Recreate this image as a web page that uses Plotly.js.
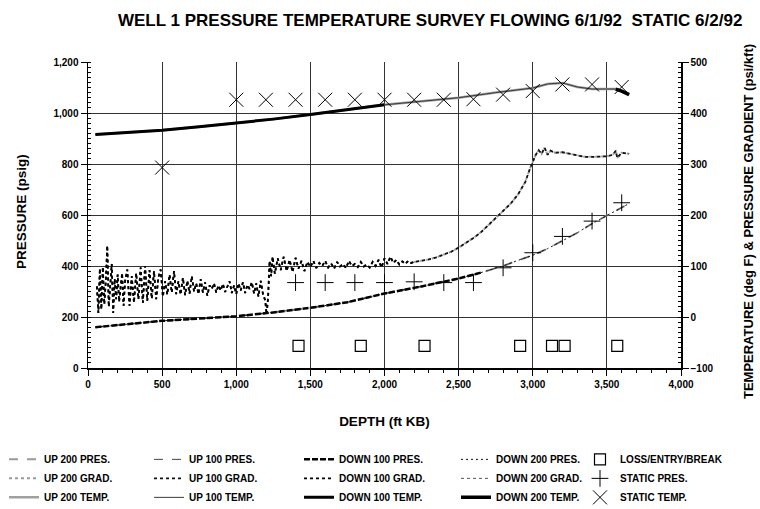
<!DOCTYPE html>
<html>
<head>
<meta charset="utf-8">
<script src="https://cdn.plot.ly/plotly-3.0.1.min.js"></script>
<style>html,body{margin:0;padding:0;background:#fff}#chart{width:760px;height:509px}</style>
</head>
<body>
<div id="chart"></div>
<script>
// ---- Flowing pressure gradient (psi/kft, right axis) ----
var gradDepth = [
  60,70,80,90,100,110,120,130,140,150,
  160,170,180,190,200,210,220,230,240,250,
  265,280,295,310,325,340,355,370,385,400,
  415,430,445,460,475,490,505,520,535,550,
  565,580,595,610,625,640,655,670,685,700,
  715,730,745,760,775,790,805,820,835,850,
  865,880,895,910,925,940,955,970,985,1000,
  1015,1030,1045,1060,1075,1090,1105,1120,1135,1150,
  1165,1180,1195,1205,1215,1225,1235,1245,1260,1280,
  1300,1320,1340,1360,1380,1400,1420,1440,1460,1480,
  1500,1520,1540,1560,1580,1600,1620,1640,1660,1680,
  1700,1720,1740,1760,1780,1800,1820,1840,1860,1880,
  1900,1920,1940,1960,1980,2000,2020,2040,2060,2080,
  2100,2120,2140,2160,2180,2200,2250,2300,2350,2400,
  2450,2500,2550,2600,2650,2700,2750,2800,2850,2900,
  2950,2980,3000,3020,3040,3060,3080,3100,3120,3150,
  3200,3250,3300,3350,3400,3450,3500,3540,3560,3570,
  3600,3650
];
var gradValue = [
  60,8,95,15,98,25,70,140,20,60,
  104,8,75,35,83,30,62,86,22,70,
  93,22,80,28,86,35,97,28,100,32,
  92,36,90,35,78,93,40,70,44,83,
  48,90,45,70,44,77,43,71,46,80,
  50,66,45,74,48,68,42,62,55,66,
  48,62,52,65,49,60,70,47,62,45,
  66,52,68,47,63,55,68,46,66,40,
  71,45,33,5,40,110,80,118,85,115,
  92,118,90,112,88,116,95,110,90,108,
  98,110,96,106,100,110,97,105,95,108,
  99,104,96,110,100,104,98,108,99,103,
  97,108,100,112,97,115,104,118,106,112,
  103,109,104,110,106,108,110,113,117,122,
  128,136,145,155,166,180,193,207,222,240,
  265,290,305,318,327,320,332,318,326,322,
  323,320,316,314,314,315,315,318,326,312,
  322,320
];

// ---- Flowing pressure (psig, left axis) ----
var presDepth = [50,250,500,750,1000,1250,1500,1750,2000,2250,2500,2650,2800,2900,3000,3100,3200,3300,3400,3500,3600,3650];
var presPsig  = [160,172,185,194,203,218,236,258,292,320,351,374,400,422,442,468,498,530,566,598,630,645];

// ---- Flowing temperature (deg F, right axis) ----
var tempDepth = [50,250,500,750,1000,1250,1500,1750,2000,2250,2500,2750,3000,3100,3200,3300,3400,3500,3560,3600,3650];
var tempDegF  = [358,362,366,373,380,388,397,406,416,423,430,440,449,457,459,451,447,447,447,443,436];

// ---- Static survey ----
var staticTempDepth = [500,1000,1200,1400,1600,1800,2000,2200,2400,2600,2800,3000,3200,3400,3600];
var staticTempDegF  = [293,426,426,426,426,426,426,426,426,427,436,443,456,456,451];
var staticPresDepth = [1400,1600,1800,2000,2200,2400,2600,2800,3000,3200,3400,3600];
var staticPresPsig  = [335,335,335,335,338,335,335,393,452,516,576,648];

// ---- Loss / entry / break points ----
var lossDepth = [1420,1840,2270,2915,3130,3215,3570];
var lossPsig  = [87,87,87,87,87,87,87];

// ---- tick labels ----
var depthTicks = [0,500,1000,1500,2000,2500,3000,3500,4000];
var depthTickText = ['0','500','1,000','1,500','2,000','2,500','3,000','3,500','4,000'];
var presTicks = [0,200,400,600,800,1000,1200];
var presTickText = ['0','200','400','600','800','1,000','1,200'];

function pick(xs, ys, test) {
  var ox = [], oy = [];
  for (var i = 0; i < xs.length; i++) { if (test(xs[i])) { ox.push(xs[i]); oy.push(ys[i]); } }
  return {x: ox, y: oy};
}
var gradSmooth = pick(gradDepth, gradValue, function (d) { return d >= 2200; });
var gradNoisy = pick(gradDepth, gradValue, function (d) { return d <= 2200; });
var presDown = pick(presDepth, presPsig, function (d) { return d <= 2650; });
var tempDown = pick(tempDepth, tempDegF, function (d) { return d <= 2000; });
var tempEnd = pick(tempDepth, tempDegF, function (d) { return d >= 3560; });

var FONT = 'Liberation Sans, Arial, sans-serif';

function lineTrace(name, leg, rank, x, y, axis, color, width, dash) {
  return {type: 'scatter', mode: 'lines', name: name, legend: leg, legendrank: rank, x: x, y: y,
          yaxis: axis, line: {color: color, width: width, dash: dash}, hoverinfo: 'skip'};
}

var traces = [
  lineTrace('UP 200 GRAD.', 'legend', 2, gradSmooth.x, gradSmooth.y, 'y2', '#9a9a9a', 2, 'dot'),
  lineTrace('UP 200 PRES.', 'legend', 1, presDepth, presPsig, 'y', '#9a9a9a', 2, 'dash'),
  lineTrace('UP 200 TEMP.', 'legend', 3, tempDepth, tempDegF, 'y2', '#a0a0a0', 2.5, 'solid'),
  lineTrace('DOWN 200 GRAD.', 'legend4', 2, gradDepth, gradValue, 'y2', '#555555', 1, 'dot'),
  lineTrace('UP 100 GRAD.', 'legend2', 2, gradDepth, gradValue, 'y2', '#111111', 1.8, 'dot'),
  lineTrace('DOWN 100 GRAD.', 'legend3', 2, gradNoisy.x, gradNoisy.y, 'y2', '#000000', 1.7, 'dot'),
  lineTrace('UP 100 PRES.', 'legend2', 1, presDepth, presPsig, 'y', '#444444', 1, 'dash'),
  lineTrace('DOWN 200 PRES.', 'legend4', 1, presDepth, presPsig, 'y', '#111111', 1, '2px,3px'),
  lineTrace('DOWN 100 PRES.', 'legend3', 1, presDown.x, presDown.y, 'y', '#000000', 2.5, '6px,2px'),
  lineTrace('UP 100 TEMP.', 'legend2', 3, tempDepth, tempDegF, 'y2', '#3a3a3a', 1, 'solid'),
  lineTrace('DOWN 100 TEMP.', 'legend3', 3, tempDown.x, tempDown.y, 'y2', '#000000', 3, 'solid'),
  lineTrace('DOWN 200 TEMP.', 'legend4', 3, tempEnd.x, tempEnd.y, 'y2', '#000000', 3.5, 'solid'),
  {type: 'scatter', mode: 'markers', name: 'LOSS/ENTRY/BREAK', legend: 'legend5', legendrank: 1, x: lossDepth, y: lossPsig,
   yaxis: 'y', marker: {symbol: 'square-open', size: 11, color: '#000', line: {width: 1.2, color: '#000'}}, hoverinfo: 'skip'},
  {type: 'scatter', mode: 'markers', name: 'STATIC PRES.', legend: 'legend5', legendrank: 2, x: staticPresDepth, y: staticPresPsig,
   yaxis: 'y', marker: {symbol: 'cross-thin-open', size: 12, color: '#000', line: {width: 1, color: '#000'}}, hoverinfo: 'skip'},
  {type: 'scatter', mode: 'markers', name: 'STATIC TEMP.', legend: 'legend5', legendrank: 3, x: staticTempDepth, y: staticTempDegF,
   yaxis: 'y2', marker: {symbol: 'x-thin-open', size: 14, color: '#000', line: {width: 1, color: '#000'}}, hoverinfo: 'skip'}
];

var tickFont = {family: FONT, size: 10, color: '#000', weight: 'bold'};
var titleFont = {family: FONT, size: 13.5, color: '#000', weight: 'bold'};
var legendFont = {family: FONT, size: 10, weight: 'bold', color: '#000'};
function legendAt(px) {
  return {orientation: 'v', xref: 'container', yref: 'container', x: px / 760, xanchor: 'left',
          y: 0.126, yanchor: 'top', font: legendFont, traceorder: 'normal', bgcolor: 'rgba(0,0,0,0)'};
}
var layout = {
  width: 760, height: 509,
  margin: {l: 88, r: 79, t: 62, b: 141, autoexpand: false},
  paper_bgcolor: '#fff', plot_bgcolor: '#fff',
  font: {family: FONT, color: '#000'},
  title: {text: 'WELL 1 PRESSURE TEMPERATURE SURVEY FLOWING 6/1/92&nbsp;&nbsp;STATIC 6/2/92',
          font: {family: FONT, size: 17, weight: 'bold', color: '#000'},
          xref: 'container', yref: 'container', x: 0.566, xanchor: 'center', y: 0.961, yanchor: 'middle'},
  showlegend: true,
  legend: legendAt(4),
  legend2: legendAt(149),
  legend3: legendAt(299),
  legend4: legendAt(456),
  legend5: legendAt(580),
  annotations: [
    {text: 'PRESSURE (psig)', xref: 'paper', yref: 'paper', x: -0.111, y: 0.51, xanchor: 'center', yanchor: 'middle',
     textangle: -90, showarrow: false, font: titleFont},
    {text: 'TEMPERATURE (deg F) &amp; PRESSURE GRADIENT (psi/kft)', xref: 'paper', yref: 'paper', x: 1.113, y: 0.477,
     xanchor: 'center', yanchor: 'middle', textangle: -90, showarrow: false,
     font: {family: FONT, size: 13, color: '#000', weight: 'bold'}}
  ],
  xaxis: {range: [0, 4000], tickmode: 'array', tickvals: depthTicks, ticktext: depthTickText,
          ticks: 'outside', ticklen: 6, tickcolor: '#000', tickwidth: 1,
          showgrid: true, gridcolor: '#333', gridwidth: 1, zeroline: false,
          showline: true, linecolor: '#000', linewidth: 1.5,
          minor: {dtick: 100, tick0: 0, ticks: 'outside', ticklen: 3, tickcolor: '#000', showgrid: false},
          tickfont: tickFont,
          title: {text: 'DEPTH (ft KB)', font: titleFont, standoff: 28}},
  yaxis: {range: [0, 1200], tickmode: 'array', tickvals: presTicks, ticktext: presTickText,
          ticks: 'outside', ticklen: 6, tickcolor: '#000', tickwidth: 1,
          showgrid: true, gridcolor: '#333', gridwidth: 1, zeroline: false,
          showline: true, linecolor: '#000', linewidth: 1.5,
          minor: {dtick: 20, tick0: 0, ticks: 'inside', ticklen: 3, tickcolor: '#000', showgrid: false},
          tickfont: tickFont},
  yaxis2: {range: [-100, 500], overlaying: 'y', side: 'right', dtick: 100, tick0: 0,
           ticks: 'outside', ticklen: 6, tickcolor: '#000', tickwidth: 1,
           showgrid: false, zeroline: false, showline: true, linecolor: '#000', linewidth: 1.5,
           minor: {dtick: 10, tick0: 0, ticks: 'inside', ticklen: 3, tickcolor: '#000', showgrid: false},
           tickfont: tickFont}
};

Plotly.newPlot('chart', traces, layout, {displayModeBar: false, staticPlot: true});
</script>
</body>
</html>
